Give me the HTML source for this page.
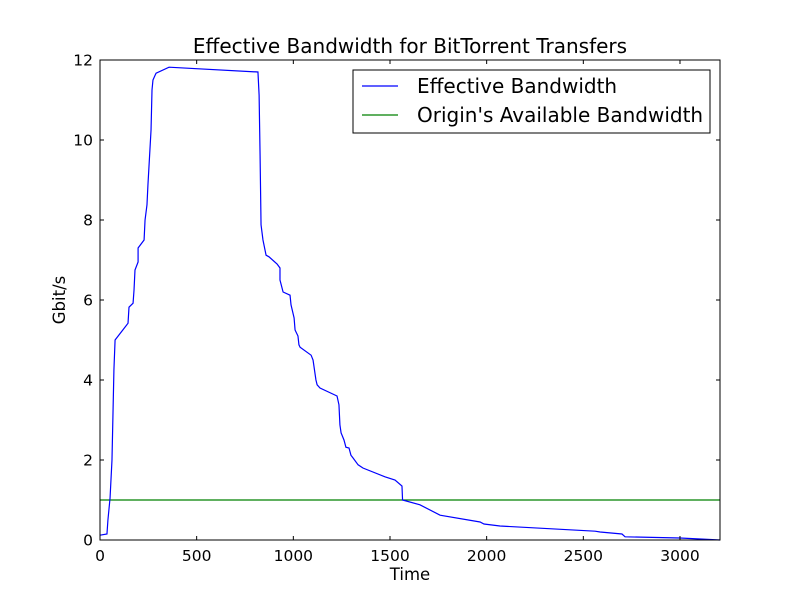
<!DOCTYPE html>
<html><head><meta charset="utf-8"><style>body{margin:0;background:#fff}svg{display:block;font-family:"DejaVu Sans","Liberation Sans",sans-serif}</style></head>
<body>
<svg id="chart" width="800" height="600" viewBox="0 0 800 600">
<rect width="800" height="600" fill="#fff"/>
<text x="410" y="53" font-size="20" text-anchor="middle">Effective Bandwidth for BitTorrent Transfers</text>
<g id="plot"></g>
<rect x="100" y="60" width="620" height="480" fill="none" stroke="#000" stroke-width="1"/>
<g id="axes"></g>
<text x="410" y="580" font-size="16.5" text-anchor="middle">Time</text>
<text x="65" y="300" font-size="16.5" text-anchor="middle" transform="rotate(-90 65 300)">Gbit/s</text>
<g>
<rect x="353" y="70" width="357" height="63" fill="#fff" stroke="#000"/>
<line x1="362" y1="86" x2="398" y2="86" stroke="#0000ff" stroke-width="1.2"/>
<text x="417" y="93" font-size="20">Effective Bandwidth</text>
<line x1="362" y1="115" x2="398" y2="115" stroke="#008000" stroke-width="1.2"/>
<text x="417" y="122" font-size="20">Origin's Available Bandwidth</text>
</g>
</svg>
<script>
const times=[0,36,41,52,62,72,78,145,150,171,176,181,197,197,228,233,243,248,264,269,274,285,290,357,817,823,828,833,843,859,874,916,931,931,947,983,988,1004,1009,1024,1029,1035,1092,1102,1117,1123,1138,1226,1236,1241,1247,1262,1272,1288,1298,1309,1335,1360,1474,1526,1562,1565,1655,1759,1966,1986,2069,2561,2587,2700,2716,3000,3207];
const bandwidth=[0.12,0.15,0.5,1.05,2,4.25,5,5.42,5.82,5.92,6.25,6.75,6.95,7.3,7.5,8,8.38,8.88,10.25,11.25,11.5,11.62,11.67,11.82,11.7,11.12,9.62,7.88,7.5,7.12,7.08,6.9,6.8,6.5,6.2,6.12,5.88,5.55,5.25,5.1,4.88,4.82,4.62,4.5,4,3.88,3.8,3.6,3.38,2.88,2.68,2.5,2.32,2.3,2.12,2.05,1.88,1.8,1.58,1.5,1.35,1,0.88,0.62,0.45,0.4,0.35,0.22,0.2,0.15,0.08,0.05,0.0];
const originBandwidth=1;
const xTicks=[0,500,1000,1500,2000,2500,3000];
const yTicks=[0,2,4,6,8,10,12];
const xMax=3207,yMax=12;
const NS='http://www.w3.org/2000/svg';
const X=v=>100+v/xMax*620, Y=v=>540-v/yMax*480;
function mk(t,a,p){const e=document.createElementNS(NS,t);for(const k in a)e.setAttribute(k,a[k]);p.appendChild(e);return e;}
const plot=document.getElementById('plot'),axes=document.getElementById('axes');
const o=mk('line',{x1:X(0),x2:X(xMax),y1:Y(originBandwidth),y2:Y(originBandwidth),stroke:'#008000','stroke-width':1.2},plot);


const l=mk('polyline',{points:times.map((t,i)=>X(t)+','+Y(bandwidth[i])).join(' '),fill:'none',stroke:'#0000ff','stroke-width':1.2},plot);


xTicks.forEach(v=>{const x=X(v);
mk('line',{x1:x,x2:x,y1:540,y2:536,stroke:'#000'},axes);mk('line',{x1:x,x2:x,y1:60,y2:64,stroke:'#000'},axes);
const t=mk('text',{x:x,y:561,'font-size':15.5,'text-anchor':'middle'},axes);t.textContent=v;

});
yTicks.forEach(v=>{const y=Y(v);
mk('line',{x1:100,x2:104,y1:y,y2:y,stroke:'#000'},axes);mk('line',{x1:720,x2:716,y1:y,y2:y,stroke:'#000'},axes);
const t=mk('text',{x:93,y:y+5.5,'font-size':15.5,'text-anchor':'end'},axes);t.textContent=v;

});
</script>
</body></html>
